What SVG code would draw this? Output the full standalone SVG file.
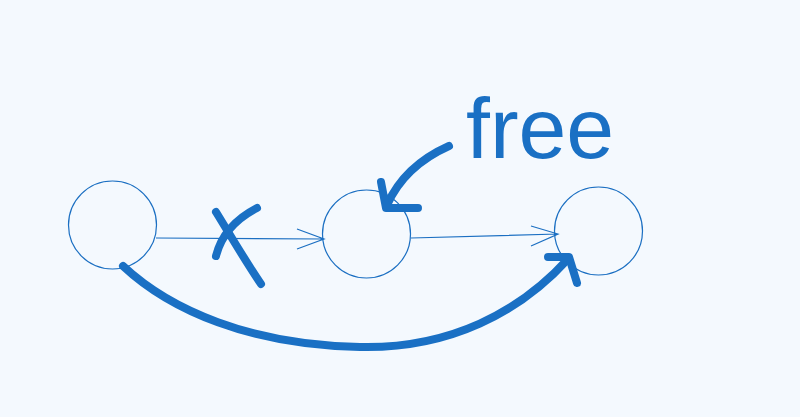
<svg xmlns="http://www.w3.org/2000/svg" width="800" height="417" viewBox="0 0 800 417">
<defs>
<style>
.node{fill:none;stroke:#1b6fc2;stroke-width:1.2}
.thin{fill:none;stroke:#1b6fc2;stroke-width:1.2}
.ink{fill:none;stroke:#1a70c4;stroke-width:8;stroke-linecap:round;stroke-linejoin:round}
.label{font-family:"Liberation Sans",Arial,sans-serif;font-size:86px;fill:#1a70c4}
</style>
</defs>
<rect width="800" height="417" fill="#f4f9fe"/>
<g id="node1"><circle class="node" cx="112.5" cy="225" r="44"/></g>
<g id="node2"><circle class="node" cx="366.5" cy="234" r="44"/></g>
<g id="node3"><circle class="node" cx="598.5" cy="231" r="44"/></g>
<g id="connectors">
<path class="thin" d="M156,238 L324,239 M297,229 L324,239 L297,249"/>
<path class="thin" d="M411,238 L558,234 M531,226 L558,234 L531,246"/>
<path class="ink" d="M123,266 C170,310 250,345 360,347 C450,349 520,312 568,259"/>
<path class="ink" d="M548,257 L569,257 L577,283"/>
<path class="ink" d="M449,146 C422,158 400,176 387,205"/>
<path class="ink" d="M381,182 L386,208 L418,208"/>
</g>
<g id="cross">
<path class="ink" d="M216,212 C232,238 246,262 261,284"/>
<path class="ink" d="M216,256 C220,240 230,222 257,208"/>
</g>
<g id="label-free"><text class="label" x="466" y="158">free</text></g>
</svg>
